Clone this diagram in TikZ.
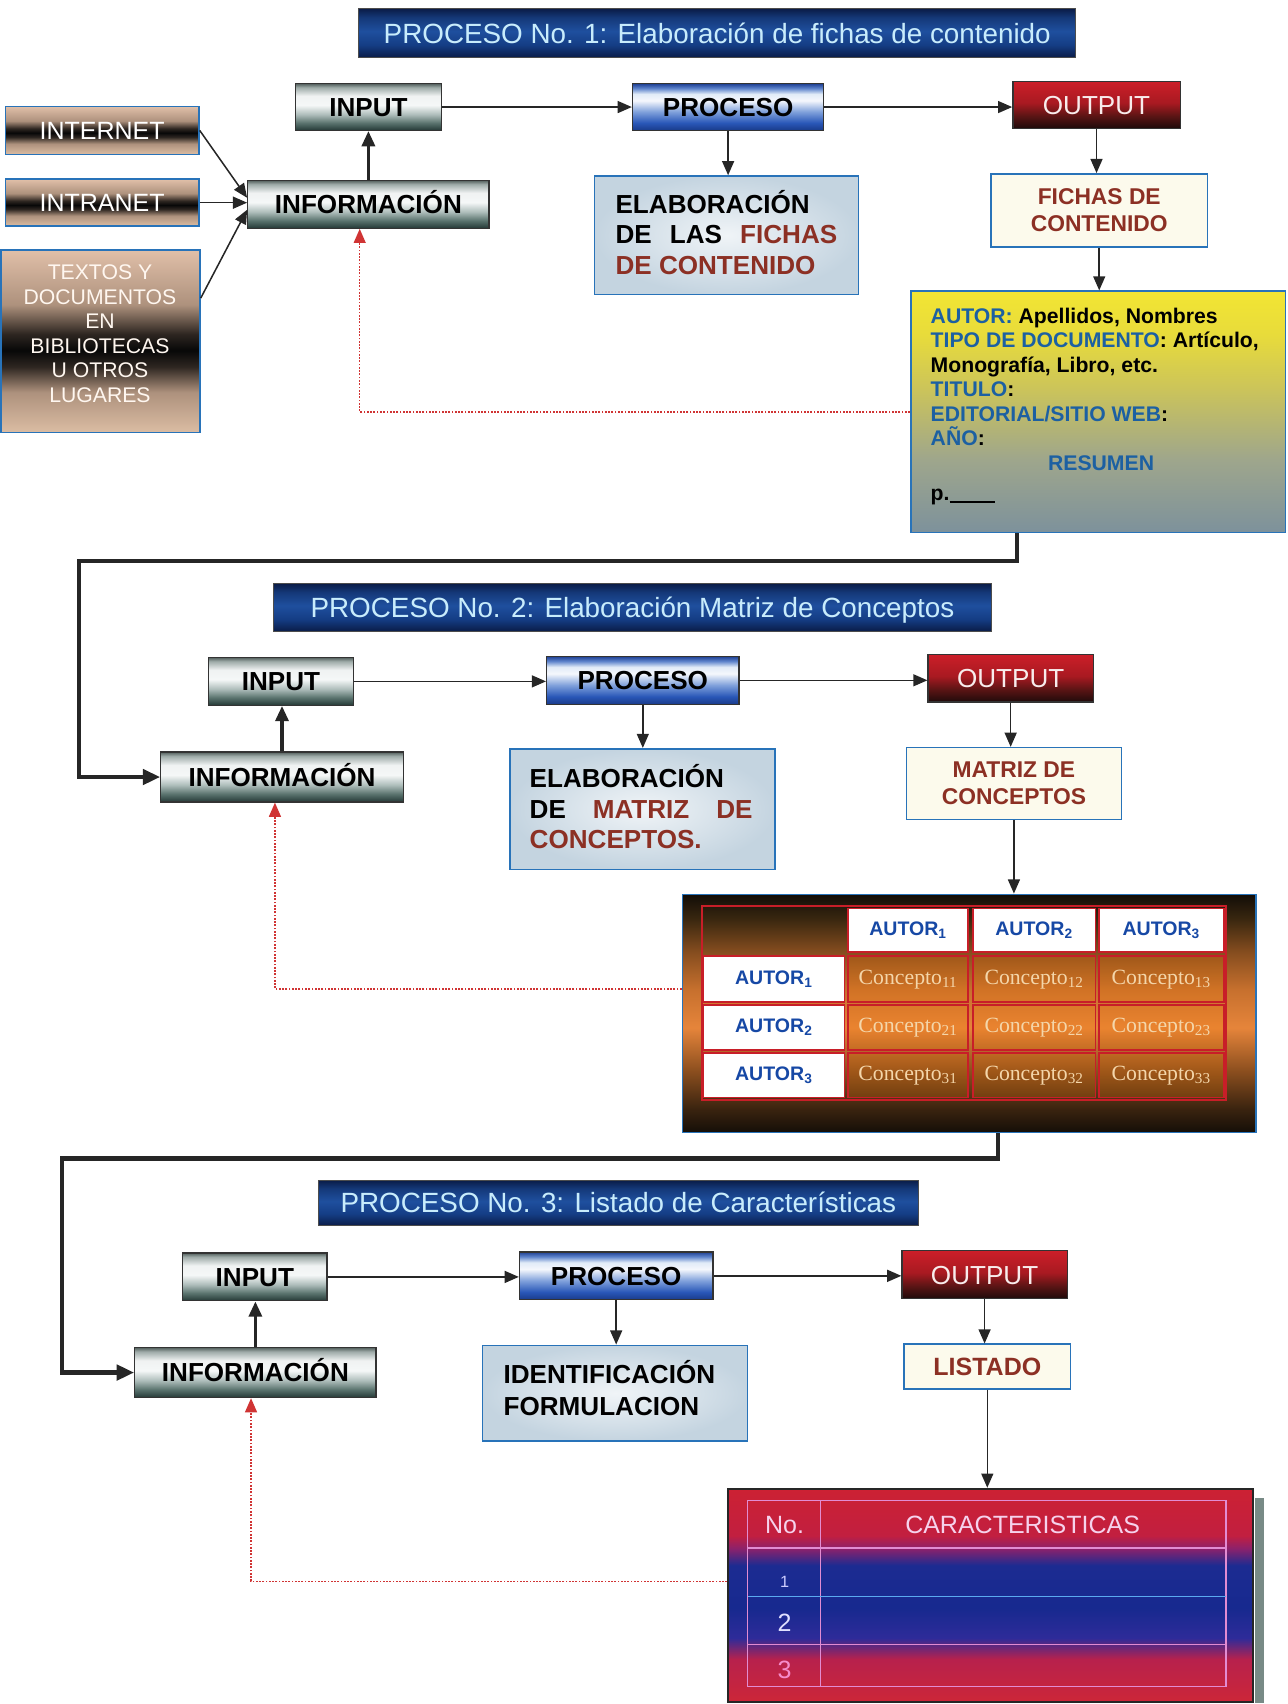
\documentclass[tikz,border=0pt]{standalone}
\usepackage{fontspec}
\setmainfont{Liberation Sans}
\newfontfamily\cfont{Liberation Serif}
\usetikzlibrary{arrows.meta,calc}

\definecolor{bordblue}{RGB}{40,115,185}
\definecolor{brn}{RGB}{140,48,36}
\definecolor{lblue}{RGB}{28,96,162}
\definecolor{mblue}{RGB}{22,72,165}
\definecolor{titletxt}{RGB}{200,236,252}
\definecolor{outtxt}{RGB}{248,236,236}
\definecolor{cream}{RGB}{252,250,236}
\definecolor{fbred}{RGB}{208,52,52}
\definecolor{conc}{RGB}{244,214,170}
\definecolor{shadowgray}{RGB}{120,138,134}
\definecolor{marbleIn}{RGB}{240,244,247}
\definecolor{marbleOut}{RGB}{196,212,224}
\definecolor{gridred}{RGB}{200,30,40}
\definecolor{gridpink}{RGB}{226,140,210}
\definecolor{gridcyan}{RGB}{90,170,240}
\definecolor{tabtxt}{RGB}{246,210,236}

% vertical shadings (bottom to top, useful range 25bp..75bp)
\pgfdeclareverticalshading{grayshade}{100bp}{rgb(0bp)=(0.14,0.22,0.21); rgb(25bp)=(0.14,0.22,0.21); rgb(33bp)=(0.35,0.45,0.43); rgb(42bp)=(0.68,0.74,0.73); rgb(52bp)=(0.96,0.97,0.97); rgb(62bp)=(0.94,0.95,0.95); rgb(71bp)=(0.62,0.67,0.66); rgb(75bp)=(0.33,0.38,0.37); rgb(100bp)=(0.33,0.38,0.37)}
\pgfdeclareverticalshading{blueshade}{100bp}{rgb(0bp)=(0.1,0.23,0.54); rgb(25bp)=(0.1,0.23,0.54); rgb(33bp)=(0.16,0.34,0.72); rgb(45bp)=(0.5,0.63,0.86); rgb(57bp)=(0.96,0.97,0.99); rgb(64bp)=(0.88,0.92,0.97); rgb(70bp)=(0.37,0.52,0.8); rgb(75bp)=(0.12,0.25,0.58); rgb(100bp)=(0.12,0.25,0.58)}
\pgfdeclareverticalshading{redshade}{100bp}{rgb(0bp)=(0.12,0.04,0.04); rgb(25bp)=(0.12,0.04,0.04); rgb(38bp)=(0.35,0.08,0.08); rgb(52bp)=(0.66,0.1,0.13); rgb(75bp)=(0.8,0.12,0.16); rgb(100bp)=(0.8,0.12,0.16)}
\pgfdeclareverticalshading{titleshade}{100bp}{rgb(0bp)=(0.04,0.11,0.28); rgb(25bp)=(0.04,0.11,0.28); rgb(38bp)=(0.08,0.24,0.52); rgb(52bp)=(0.12,0.31,0.62); rgb(66bp)=(0.08,0.22,0.47); rgb(75bp)=(0.04,0.11,0.28); rgb(100bp)=(0.04,0.11,0.28)}
\pgfdeclareverticalshading{tanshade}{100bp}{rgb(0bp)=(0.86,0.74,0.64); rgb(25bp)=(0.86,0.74,0.64); rgb(36bp)=(0.68,0.57,0.49); rgb(43bp)=(0.18,0.15,0.13); rgb(47.5bp)=(0.03,0.03,0.03); rgb(52bp)=(0.18,0.15,0.13); rgb(60bp)=(0.68,0.57,0.49); rgb(75bp)=(0.88,0.75,0.66); rgb(100bp)=(0.88,0.75,0.66)}
\pgfdeclareverticalshading{cardshade}{100bp}{rgb(0bp)=(0.49,0.57,0.61); rgb(25bp)=(0.49,0.57,0.61); rgb(40bp)=(0.62,0.65,0.55); rgb(55bp)=(0.8,0.77,0.35); rgb(66bp)=(0.91,0.86,0.23); rgb(75bp)=(0.95,0.9,0.2); rgb(100bp)=(0.95,0.9,0.2)}
\pgfdeclareverticalshading{matshade}{100bp}{rgb(0bp)=(0.08,0.055,0.03); rgb(25bp)=(0.08,0.055,0.03); rgb(30bp)=(0.23,0.14,0.06); rgb(38bp)=(0.55,0.31,0.12); rgb(47bp)=(0.9,0.52,0.23); rgb(55bp)=(0.78,0.44,0.18); rgb(63bp)=(0.52,0.3,0.12); rgb(70bp)=(0.22,0.15,0.06); rgb(75bp)=(0.07,0.05,0.03); rgb(100bp)=(0.07,0.05,0.03)}
\pgfdeclareverticalshading{tabshade}{100bp}{rgb(0bp)=(0.8,0.15,0.22); rgb(25bp)=(0.8,0.15,0.22); rgb(35bp)=(0.72,0.13,0.3); rgb(40bp)=(0.18,0.17,0.6); rgb(47bp)=(0.09,0.16,0.56); rgb(57bp)=(0.11,0.17,0.57); rgb(61bp)=(0.55,0.13,0.42); rgb(64bp)=(0.76,0.12,0.25); rgb(75bp)=(0.8,0.13,0.2); rgb(100bp)=(0.8,0.13,0.2)}

\tikzset{
  lbl/.style={inner sep=0pt, text height=17.2pt, text depth=0pt,
    font=\fontsize{24}{28}\selectfont\bfseries},
  graybox/.style={lbl, draw=black!80, line width=1.2pt, shading=grayshade},
  bluebox/.style={lbl, draw=black!80, line width=1.2pt, shading=blueshade},
  redbox/.style={lbl, draw=black!80, line width=1.2pt, shading=redshade,
    text=outtxt, font=\fontsize{24}{28}\selectfont},
  tanbox/.style={inner sep=0pt, align=center, draw=bordblue, line width=1.5pt,
    shading=tanshade, text=white, font=\fontsize{23}{27}\selectfont},
  titlebar/.style={inner sep=0pt, text height=18.3pt, text depth=0pt,
    draw=black!70, line width=1pt, shading=titleshade, text=titletxt,
    font=\fontsize{25.6}{30}\selectfont},
  marblebox/.style={draw=bordblue, line width=1.5pt, inner color=marbleIn,
    outer color=marbleOut, inner sep=0pt},
  btxt/.style={inner sep=0pt, align=left, font=\fontsize{24}{28}\selectfont\bfseries},
  creambox/.style={draw=bordblue, line width=1.5pt, fill=cream, text=brn,
    font=\fontsize{21}{25}\selectfont\bfseries, align=center, inner sep=0pt},
  arr/.style={-{Triangle[length=13pt,width=11pt]}, line width=1.4pt, black!85},
  uparr/.style={-{Triangle[length=14pt,width=12pt]}, line width=3pt, black!85},
  tharr/.style={-{Triangle[length=16pt,width=14pt]}, line width=3.8pt, black!85},
  fbarr/.style={-{Triangle[length=13pt,width=11pt]}, line width=1.3pt, fbred,
    dash pattern=on 1.6pt off 1.4pt},
  hdcell/.style={draw=gridred, line width=1.6pt, fill=white, inner sep=0pt,
    text=mblue, font=\fontsize{18}{20}\selectfont\bfseries},
  cncell/.style={draw=gridred, line width=1.6pt, fill=orange, fill opacity=0.18,
    text opacity=1, inner sep=0pt, text=conc, font=\cfont\fontsize{20}{22}\selectfont},
  tabtext/.style={inner sep=0pt, text=tabtxt, font=\fontsize{23}{26}\selectfont}
}

\begin{document}
\begin{tikzpicture}[x=1pt,y=-1pt]
\useasboundingbox (0,0) rectangle (1185,1568);

% ================= PROCESO 1 =================
\node[titlebar, minimum width=660, minimum height=45] (t1) at (660,30.5)
  {PROCESO No. 1: Elaboración de fichas de contenido};
\node[graybox, minimum width=134, minimum height=43] (in1) at (339,98.5) {INPUT};
\node[bluebox, minimum width=176, minimum height=43] (pr1) at (670,98.5) {PROCESO};
\node[redbox, minimum width=154, minimum height=43] (out1) at (1009,96.5) {OUTPUT};
\node[graybox, minimum width=222, minimum height=44] (info1) at (339,188) {INFORMACIÓN};

\node[tanbox, minimum width=178, minimum height=44] (inet) at (94,120) {INTERNET};
\node[tanbox, minimum width=178, minimum height=43] (intra) at (94,186.5) {INTRANET};
\node[tanbox, minimum width=183, minimum height=168] (textos) at (92.5,314) {};
\node[inner sep=0pt, align=center, text=white!94!orange,
  font=\fontsize{19.5}{22.6}\selectfont] (textost) at (92,307)
  {TEXTOS Y\\DOCUMENTOS\\EN\\BIBLIOTECAS\\U OTROS\\LUGARES};

\node[marblebox, minimum width=243, minimum height=109] (elab1) at (668.5,216.5) {};
\node[btxt, anchor=west] (elab1t) at ($(elab1.west)+(20,-2.5)$)
  {ELABORACIÓN\\\makebox[204pt][s]{DE LAS \textcolor{brn}{FICHAS}}\\\textcolor{brn}{DE CONTENIDO}};

\node[creambox, minimum width=199, minimum height=67] (fichas) at (1011.5,193.5)
  {FICHAS DE\\CONTENIDO};

\node[draw=bordblue, line width=1.5pt, shading=cardshade, minimum width=345,
  minimum height=222, inner sep=0pt] (card) at (1010.5,379) {};
\node[anchor=north west, inner sep=0pt, align=left,
  font=\fontsize{19.5}{22.5}\selectfont\bfseries] (cardt) at ($(card.north west)+(19,16)$)
  {\textcolor{lblue}{AUTOR:} Apellidos, Nombres\\
   \textcolor{lblue}{TIPO DE DOCUMENTO}: Artículo,\\
   Monografía, Libro, etc.\\
   \textcolor{lblue}{TITULO}:\\
   \textcolor{lblue}{EDITORIAL/SITIO WEB}:\\
   \textcolor{lblue}{AÑO}:\\
   \hspace*{108pt}\textcolor{lblue}{RESUMEN}\\[5.5pt]
   p.\rule[-2pt]{42pt}{1.6pt}};

\draw[arr] (in1.east) -- (pr1.west);
\draw[arr] (pr1.east) -- (pr1.east -| out1.west);
\draw[uparr] (info1.north) -- (in1.south);
\draw[arr] (pr1.south) -- (pr1.south |- elab1.north);
\draw[arr] (out1.south) -- (out1.south |- fichas.north);
\draw[arr] (fichas.south) -- (fichas.south |- card.north);
\draw[arr] (inet.east) -- ($(info1.west)+(0,-6)$);
\draw[arr] (intra.east) -- (intra.east -| info1.west);
\draw[arr] ($(textos.north east)+(0,45)$) -- ($(info1.west)+(0,5)$);
\draw[fbarr] (card.west) -| ($(info1.south)+(-8,0)$);

% ================= PROCESO 2 =================
\node[titlebar, minimum width=660, minimum height=44] (t2) at (582,559)
  {PROCESO No. 2: Elaboración Matriz de Conceptos};
\node[graybox, minimum width=133, minimum height=44] (in2) at (258.5,627) {INPUT};
\node[bluebox, minimum width=177, minimum height=44] (pr2) at (591.5,626) {PROCESO};
\node[redbox, minimum width=152, minimum height=44] (out2) at (930,624) {OUTPUT};
\node[graybox, minimum width=223, minimum height=46] (info2) at (259.5,715) {INFORMACIÓN};

\coordinate (k1) at (73,516);
\draw[tharr] ($(card.south)+(-75,0)$) |- (k1) |- (info2.west);

\node[marblebox, minimum width=244, minimum height=111] (elab2) at (591,744.5) {};
\node[btxt, anchor=west] (elab2t) at ($(elab2.west)+(19,-2)$)
  {ELABORACIÓN\\\makebox[205pt][s]{DE \textcolor{brn}{MATRIZ DE}}\\\textcolor{brn}{CONCEPTOS.}};

\node[creambox, minimum width=198, minimum height=66] (matriz) at (933,721)
  {MATRIZ DE\\CONCEPTOS};

% concept matrix
\node[draw=bordblue, line width=1.5pt, shading=matshade, minimum width=528,
  minimum height=219, inner sep=0pt] (mat) at (892,932.5) {};
\node[draw=gridred, line width=2pt, minimum width=482, minimum height=178,
  inner sep=0pt] (matgrid) at (887,923) {};
\node[hdcell, minimum width=111, minimum height=40] (h1) at (835.5,856) {AUTOR\textsubscript{1}};
\node[hdcell, minimum width=113, minimum height=40] (h2) at (951.5,856) {AUTOR\textsubscript{2}};
\node[hdcell, minimum width=115, minimum height=40] (h3) at (1068.5,856) {AUTOR\textsubscript{3}};
\node[hdcell, minimum width=130, minimum height=42] (r1) at (712,901) {AUTOR\textsubscript{1}};
\node[hdcell, minimum width=130, minimum height=41] (r2) at (712,945.5) {AUTOR\textsubscript{2}};
\node[hdcell, minimum width=130, minimum height=41] (r3) at (712,989.5) {AUTOR\textsubscript{3}};
\node[cncell, minimum width=111, minimum height=42] (c11) at (835.5,901) {Concepto\textsubscript{11}};
\node[cncell, minimum width=113, minimum height=42] (c12) at (951.5,901) {Concepto\textsubscript{12}};
\node[cncell, minimum width=115, minimum height=42] (c13) at (1068.5,901) {Concepto\textsubscript{13}};
\node[cncell, minimum width=111, minimum height=41] (c21) at (835.5,945.5) {Concepto\textsubscript{21}};
\node[cncell, minimum width=113, minimum height=41] (c22) at (951.5,945.5) {Concepto\textsubscript{22}};
\node[cncell, minimum width=115, minimum height=41] (c23) at (1068.5,945.5) {Concepto\textsubscript{23}};
\node[cncell, minimum width=111, minimum height=41] (c31) at (835.5,989.5) {Concepto\textsubscript{31}};
\node[cncell, minimum width=113, minimum height=41] (c32) at (951.5,989.5) {Concepto\textsubscript{32}};
\node[cncell, minimum width=115, minimum height=41] (c33) at (1068.5,989.5) {Concepto\textsubscript{33}};

\draw[arr] (in2.east) -- (in2.east -| pr2.west);
\draw[arr] (pr2.east) -- (pr2.east -| out2.west);
\draw[uparr] (info2.north) -- (info2.north |- in2.south);
\draw[arr] (pr2.south) -- (pr2.south |- elab2.north);
\draw[arr] (out2.south) -- (out2.south |- matriz.north);
\draw[arr] (matriz.south) -- (matriz.south |- mat.north);
\draw[fbarr] ($(mat.west)+(0,-22.5)$) -| ($(info2.south)+(-6.5,0)$);

% ================= PROCESO 3 =================
\node[titlebar, minimum width=552, minimum height=42] (t3) at (569,1107)
  {PROCESO No. 3: Listado de Características};
\node[graybox, minimum width=133, minimum height=44] (in3) at (234.5,1175) {INPUT};
\node[bluebox, minimum width=178, minimum height=44] (pr3) at (567,1174) {PROCESO};
\node[redbox, minimum width=152, minimum height=44] (out3) at (906,1173) {OUTPUT};
\node[graybox, minimum width=222, minimum height=46] (info3) at (235,1263) {INFORMACIÓN};

\coordinate (k2) at (57,1066);
\draw[tharr] ($(mat.south)+(26,0)$) |- (k2) |- (info3.west);

\node[marblebox, minimum width=244, minimum height=88] (ident) at (566,1282) {};
\node[btxt, anchor=west, font=\fontsize{24}{29}\selectfont\bfseries] (identt)
  at ($(ident.west)+(20,-4.5)$) {IDENTIFICACIÓN\\FORMULACION};

\node[creambox, minimum width=153, minimum height=41, text height=16.5pt,
  text depth=0pt, font=\fontsize{23}{26}\selectfont\bfseries] (listado) at (908.5,1257.5) {LISTADO};

% characteristics table
\node[draw=black!85, line width=2pt, shading=tabshade, minimum width=483,
  minimum height=196, inner sep=0pt] (tab) at (911.5,1468) {};
\fill[shadowgray] ($(tab.north east)+(1,9)$) rectangle ($(tab.south east)+(9,0)$);
\draw[gridpink, line width=1.2pt] (688,1381) rectangle (1128,1552);
\draw[gridpink, line width=1.2pt] (755,1381) -- (755,1552);
\draw[gridpink, line width=1.2pt] (688,1424.5) -- (1128,1424.5);
\draw[gridcyan, line width=1.2pt] (688,1469) -- (1128,1469);
\draw[gridpink, line width=1.2pt] (688,1513.5) -- (1128,1513.5);
\node[tabtext] (tno) at (722,1403) {No.};
\node[tabtext] (tcar) at (941,1403) {CARACTERISTICAS};
\node[tabtext, text=white!80!blue, font=\fontsize{15}{17}\selectfont] (tn1) at (722,1456) {1};
\node[tabtext, text=white!88!blue] (tn2) at (722,1493) {2};
\node[tabtext, text=white!55!magenta] (tn3) at (722,1537) {3};

\draw[arr] (in3.east) -- (in3.east -| pr3.west);
\draw[arr] (pr3.east) -- (pr3.east -| out3.west);
\draw[uparr] (info3.north) -- (info3.north |- in3.south);
\draw[arr] (pr3.south) -- (pr3.south |- ident.north);
\draw[arr] (out3.south) -- (out3.south |- listado.north);
\draw[arr] (listado.south) -- (listado.south |- tab.north);
\draw[fbarr] ($(tab.west)+(0,-13)$) -| ($(info3.south)+(-4,0)$);
\end{tikzpicture}
\end{document}
